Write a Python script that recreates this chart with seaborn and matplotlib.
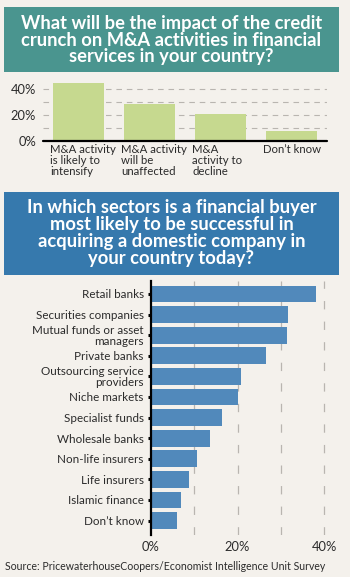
import matplotlib
matplotlib.use("Agg")
import matplotlib.pyplot as plt
from matplotlib.patches import Rectangle
from matplotlib.ticker import FuncFormatter
import seaborn as sns
import pandas as pd

# Survey results: impact of the credit crunch on M&A activity
impact_labels = ["M&A activity\nis likely to\nintensify",
                 "M&A activity\nwill be\nunaffected",
                 "M&A\nactivity to\ndecline",
                 "Don\u2019t know"]
impact_values = [44.7, 28.4, 20.9, 7.8]

# Sectors where a financial buyer is most likely to succeed
sectors = ["Retail banks", "Securities companies",
           "Mutual funds or asset\nmanagers", "Private banks",
           "Outsourcing service\nproviders", "Niche markets",
           "Specialist funds", "Wholesale banks", "Non-life insurers",
           "Life insurers", "Islamic finance", "Don\u2019t know"]
sector_values = [38.1, 31.7, 31.5, 26.5, 20.7, 20.0, 16.4, 13.7, 10.7,
                 8.8, 7.0, 6.0]

source_note = "Source: PricewaterhouseCoopers/Economist Intelligence Unit Survey"
title_top = "What will be the impact of the credit\ncrunch on M&A activities in financial\nservices in your country?"
title_bottom = ("In which sectors is a financial buyer\nmost likely to be successful in\n"
                "acquiring a domestic company in\nyour country today?")

BG = "#f4f1ec"
TEAL = "#4a958f"
BLUE_BOX = "#3679ad"
GREEN = "#c6d98f"
BLUE_BAR = "#5189bb"
GRID = "#b9b5b0"
TEXT = "#2b2b2b"

sns.set_theme(style="white")
plt.rcParams["font.family"] = ["Lato", "DejaVu Sans"]
plt.rcParams["lines.scale_dashes"] = False

W, H = 350, 577
fig = plt.figure(figsize=(W / 100, H / 100), dpi=100, facecolor=BG)


def fx(px):
    return px / W


def fy(py):
    return 1 - py / H


# Title banners
for (x0, y0, x1, y1, col, txt, cy) in [
    (4, 7, 339, 72, TEAL, title_top, 40),
    (4, 192, 339, 275, BLUE_BOX, title_bottom, 233),
]:
    fig.patches.append(Rectangle((fx(x0), fy(y1)), fx(x1 - x0), (y1 - y0) / H,
                                 transform=fig.transFigure, facecolor=col,
                                 edgecolor="none", zorder=0))
    fig.text(fx((x0 + x1) / 2), fy(cy), txt, ha="center", va="center",
             color="white", fontsize=13.2, fontweight="bold",
             linespacing=0.98)

pct = FuncFormatter(lambda v, _: f"{v:.0f}%")

# ---- Top chart: vertical bars ----
ax1 = fig.add_axes([fx(43), fy(141), fx(327 - 43), (141 - 80) / H])
ax1.set_facecolor(BG)
df1 = pd.DataFrame({"impact": impact_labels, "share": impact_values})
sns.barplot(data=df1, x="impact", y="share", color=GREEN, width=0.73,
            saturation=1, linewidth=0, ax=ax1, zorder=2)
ax1.set_ylim(0, 47.2)
ax1.set_xlim(-0.5, 3.5)
ax1.set_axisbelow(True)
for v in [10, 20, 30, 40]:
    ax1.axhline(v, color=GRID, lw=0.8, dashes=(4, 3.5), zorder=0)
ax1.axhline(0, color="black", lw=1.6, zorder=3, clip_on=False)
ax1.set_yticks([0, 20, 40])
ax1.yaxis.set_major_formatter(pct)
ax1.tick_params(axis="y", length=0, pad=5, labelsize=9.3, labelcolor=TEXT)
ax1.set_xticks(range(len(impact_labels)))
ax1.set_xticklabels([])
ax1.tick_params(axis="x", length=0)
for i, lab in enumerate(impact_labels):
    ax1.annotate(lab, xy=(i - 0.4, 0), xycoords=("data", "axes fraction"),
                 xytext=(0, -2), textcoords="offset points",
                 ha="left", va="top", fontsize=8.2, color=TEXT,
                 linespacing=1.0)
ax1.set_xlabel("")
ax1.set_ylabel("")
for s in ax1.spines.values():
    s.set_visible(False)

# ---- Bottom chart: horizontal bars ----
ax2 = fig.add_axes([fx(151), fy(535), fx(335 - 151), (535 - 281) / H])
ax2.set_facecolor(BG)
df2 = pd.DataFrame({"sector": sectors, "share": sector_values})
sns.barplot(data=df2, y="sector", x="share", orient="h", color=BLUE_BAR,
            width=0.81, saturation=1, linewidth=0, ax=ax2, zorder=2)
ax2.set_xlim(0, 42.5)
ax2.set_ylim(11.7, -0.63)
for v in [10, 20, 30, 40]:
    ax2.axvline(v, color=GRID, lw=0.9, dashes=(6, 8.8), zorder=0)
ax2.set_xticks([0, 20, 40])
ax2.xaxis.set_major_formatter(pct)
ax2.tick_params(axis="x", length=0, pad=4.5, labelsize=9.3, labelcolor=TEXT)
ax2.tick_params(axis="y", length=2.2, width=2.2, color="black", pad=3,
                labelsize=8.4, labelcolor=TEXT, left=True)
for t in ax2.get_yticklabels():
    t.set_linespacing(0.95)
ax2.set_xlabel("")
ax2.set_ylabel("")
for k, s in ax2.spines.items():
    s.set_visible(k == "left")
ax2.spines["left"].set_color("black")
ax2.spines["left"].set_linewidth(1.6)
ax2.spines["left"].set_zorder(4)

fig.text(fx(5), fy(567), source_note, ha="left", va="center",
         fontsize=7.6, color=TEXT)

fig.savefig("out.png", dpi=100, facecolor=BG)
